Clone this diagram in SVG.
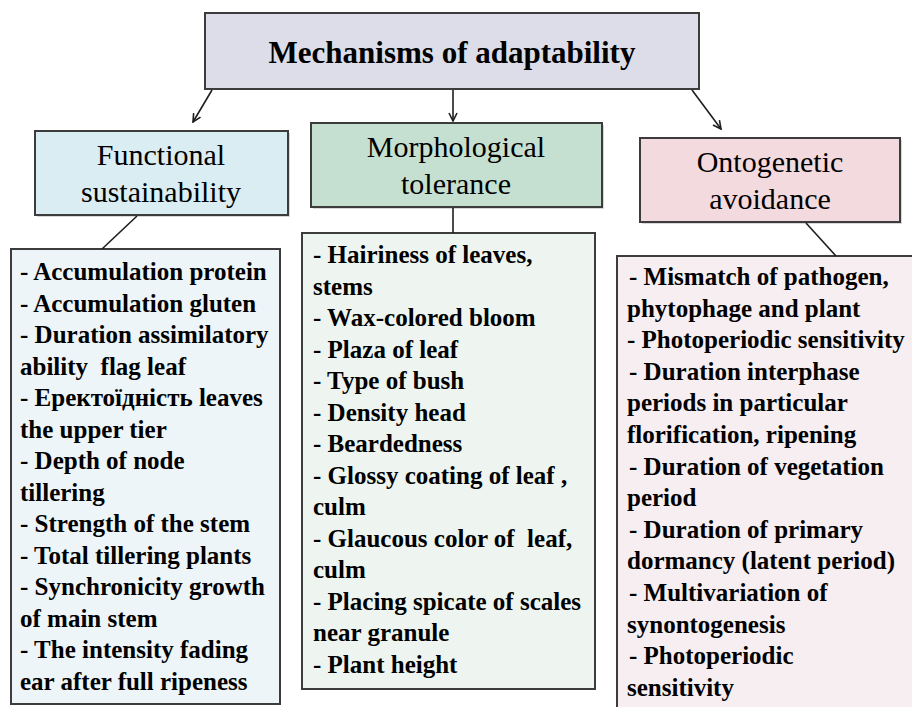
<svg xmlns="http://www.w3.org/2000/svg" width="912" height="707" viewBox="0 0 912 707">
<style>
.box{stroke:#3c3c3c;stroke-width:2}
.title{font-family:"Liberation Serif",serif;font-weight:bold;font-size:31px;fill:#000;text-anchor:middle}
.head{font-family:"Liberation Serif",serif;font-size:30px;fill:#000;text-anchor:middle}
.list{font-family:"Liberation Serif",serif;font-weight:bold;font-size:25px;fill:#000;white-space:pre}
.conn{stroke:#1e1e1e;stroke-width:1.6;fill:none}
</style>
<defs>
<marker id="arr" viewBox="0 0 10 10" refX="9" refY="5" markerWidth="10" markerHeight="10" markerUnits="userSpaceOnUse" orient="auto">
<path d="M1,1 L9,5 L1,9" fill="none" stroke="#1e1e1e" stroke-width="1.6"/>
</marker>
</defs>
<rect width="912" height="707" fill="#fff"/>
<g id="title">
<rect class="box" x="205" y="13" width="494" height="76" fill="#dcdde9"/>
<text class="title" x="452" y="63">Mechanisms of adaptability</text>
</g>
<g id="functional">
<rect x="37" y="133" width="253" height="84" fill="#d8d8d8"/>
<rect class="box" x="35" y="131" width="253" height="84" fill="#daedf3"/>
<text class="head" x="161" y="165">Functional</text>
<text class="head" x="161" y="202">sustainability</text>
</g>
<g id="morphological">
<rect x="313" y="125" width="291" height="84" fill="#d8d8d8"/>
<rect class="box" x="311" y="123" width="291" height="84" fill="#c5e0d0"/>
<text class="head" x="456" y="157">Morphological</text>
<text class="head" x="456" y="194">tolerance</text>
</g>
<g id="ontogenetic">
<rect x="642" y="140" width="260" height="84" fill="#d8d8d8"/>
<rect class="box" x="640" y="138" width="260" height="84" fill="#f2dadf"/>
<text class="head" x="770" y="172">Ontogenetic</text>
<text class="head" x="770" y="209">avoidance</text>
</g>
<g id="functional-list">
<rect class="box" x="11" y="249" width="269" height="455" fill="#eef5f8"/>
<text class="list" x="20" y="280">- Accumulation protein</text>
<text class="list" x="20" y="311.5">- Accumulation gluten</text>
<text class="list" x="20" y="343">- Duration assimilatory</text>
<text class="list" x="20" y="374.5">ability  flag leaf</text>
<text class="list" x="20" y="406">- Еректоїдність leaves</text>
<text class="list" x="20" y="437.5">the upper tier</text>
<text class="list" x="20" y="469">- Depth of node</text>
<text class="list" x="20" y="500.5">tillering</text>
<text class="list" x="20" y="532">- Strength of the stem</text>
<text class="list" x="20" y="563.5">- Total tillering plants</text>
<text class="list" x="20" y="595">- Synchronicity growth</text>
<text class="list" x="20" y="626.5">of main stem</text>
<text class="list" x="20" y="658">- The intensity fading</text>
<text class="list" x="20" y="689.5">ear after full ripeness</text>
</g>
<g id="morphological-list">
<rect class="box" x="302" y="233" width="293" height="456" fill="#eef5f0"/>
<text class="list" x="313" y="263">- Hairiness of leaves,</text>
<text class="list" x="313" y="294.5">stems</text>
<text class="list" x="313" y="326">- Wax-colored bloom</text>
<text class="list" x="313" y="357.5">- Plaza of leaf</text>
<text class="list" x="313" y="389">- Type of bush</text>
<text class="list" x="313" y="420.5">- Density head</text>
<text class="list" x="313" y="452">- Beardedness</text>
<text class="list" x="313" y="483.5">- Glossy coating of leaf ,</text>
<text class="list" x="313" y="515">culm</text>
<text class="list" x="313" y="546.5">- Glaucous color of  leaf,</text>
<text class="list" x="313" y="578">culm</text>
<text class="list" x="313" y="609.5">- Placing spicate of scales</text>
<text class="list" x="313" y="641">near granule</text>
<text class="list" x="313" y="672.5">- Plant height</text>
</g>
<g id="ontogenetic-list">
<rect class="box" x="617" y="256" width="310" height="470" fill="#f6eef1"/>
<text class="list" x="629" y="285">- Mismatch of pathogen,</text>
<text class="list" x="627" y="316.6">phytophage and plant</text>
<text class="list" x="627" y="348.2">- Photoperiodic sensitivity</text>
<text class="list" x="629" y="379.8">- Duration interphase</text>
<text class="list" x="627" y="411.4">periods in particular</text>
<text class="list" x="627" y="443">florification, ripening</text>
<text class="list" x="629" y="474.6">- Duration of vegetation</text>
<text class="list" x="627" y="506.2">period</text>
<text class="list" x="629" y="537.8">- Duration of primary</text>
<text class="list" x="627" y="569.4">dormancy (latent period)</text>
<text class="list" x="629" y="601">- Multivariation of</text>
<text class="list" x="627" y="632.6">synontogenesis</text>
<text class="list" x="629" y="664.2">- Photoperiodic</text>
<text class="list" x="627" y="695.8">sensitivity</text>
</g>
<g id="connectors">
<line class="conn" x1="212" y1="90" x2="193" y2="122" marker-end="url(#arr)"/>
<line class="conn" x1="453" y1="90" x2="453" y2="121" marker-end="url(#arr)"/>
<line class="conn" x1="692" y1="90" x2="721" y2="129" marker-end="url(#arr)"/>
<line class="conn" x1="137" y1="216" x2="102" y2="249"/>
<line class="conn" x1="453" y1="208" x2="453" y2="233"/>
<line class="conn" x1="806" y1="223" x2="836" y2="256"/>
</g>
</svg>
